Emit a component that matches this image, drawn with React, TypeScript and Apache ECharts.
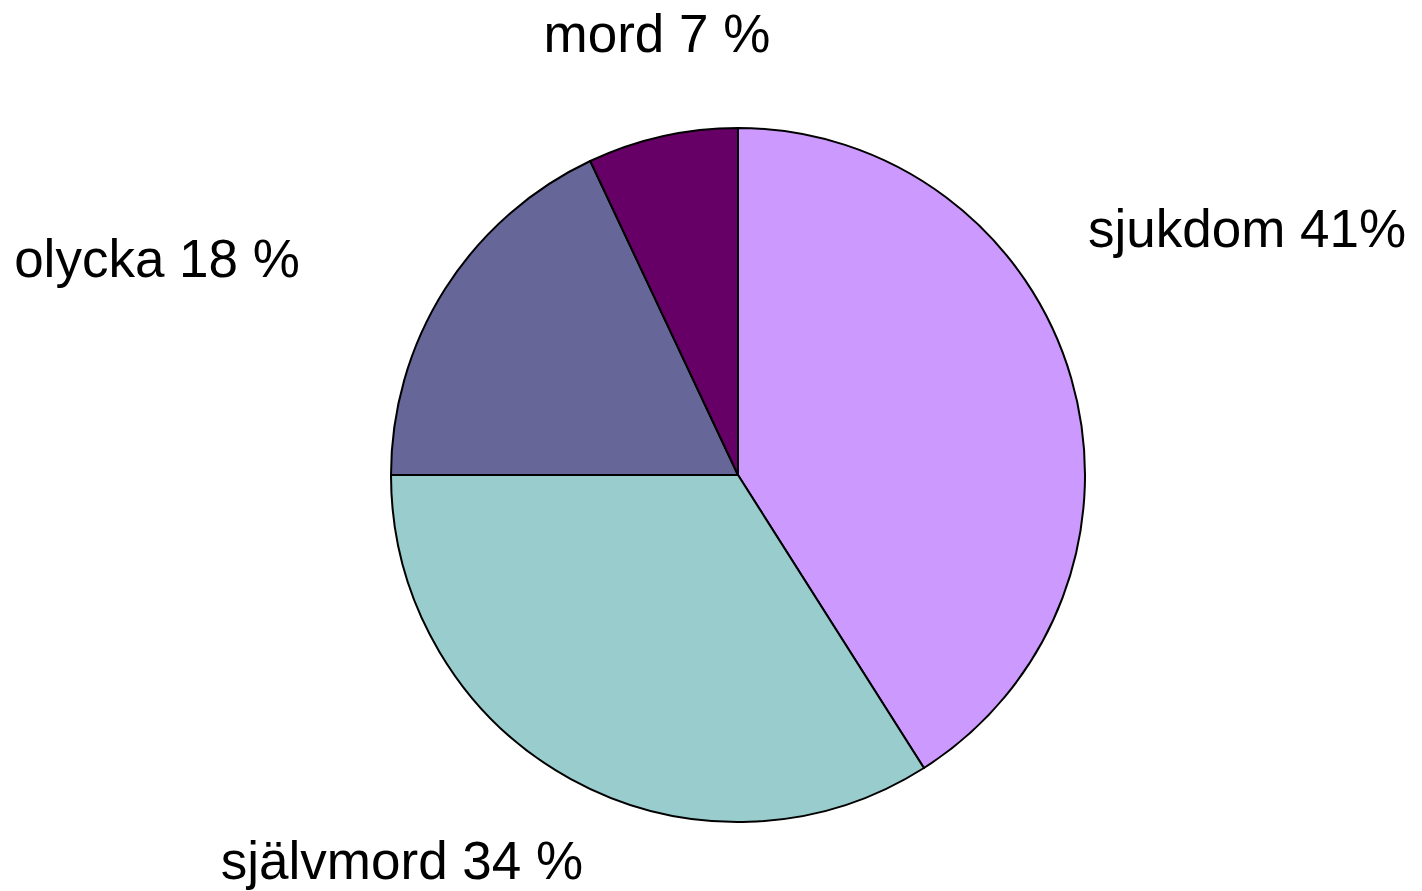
import React, { useEffect, useRef } from "react";
import * as echarts from "echarts";

const categories = ["sjukdom", "självmord", "olycka", "mord"];
const values = [41, 34, 18, 7];
const percentTexts = ["41%", "34 %", "18 %", "7 %"];
const colors = ["#CC99FF", "#99CCCC", "#666699", "#660066"];
// label anchor positions (chart pixels), as placed in the reference
const labelAnchors: [number, number][] = [
  [1247, 228],
  [402, 860],
  [157, 258],
  [657, 33],
];

export default function App() {
  const ref = useRef<HTMLDivElement>(null);
  useEffect(() => {
    if (!ref.current) return;
    const chart = echarts.init(ref.current, undefined, { renderer: "svg" });
    chart.setOption({
      animation: false,
      backgroundColor: "#ffffff",
      series: [
        {
          type: "pie",
          center: [738, 475],
          radius: [0, 347],
          startAngle: 90,
          clockwise: true,
          avoidLabelOverlap: false,
          data: categories.map((c, i) => ({
            name: c,
            value: values[i],
            itemStyle: { color: colors[i] },
          })),
          itemStyle: { borderColor: "#000000", borderWidth: 2 },
          label: {
            show: true,
            position: "outside",
            formatter: (p: any) => `${p.name} ${percentTexts[p.dataIndex]}`,
            fontFamily: "'Liberation Sans', Arial, sans-serif",
            fontSize: 53,
            color: "#000000",
          },
          labelLine: { show: false },
          labelLayout: (p: any) => ({
            x: labelAnchors[p.dataIndex][0],
            y: labelAnchors[p.dataIndex][1],
            align: "center",
            verticalAlign: "middle",
          }),
          emphasis: { disabled: true },
        },
      ],
    });
    return () => chart.dispose();
  }, []);
  return (
    <div
      ref={ref}
      style={{ position: "fixed", left: 0, top: 0, width: 1422, height: 891 }}
    />
  );
}
